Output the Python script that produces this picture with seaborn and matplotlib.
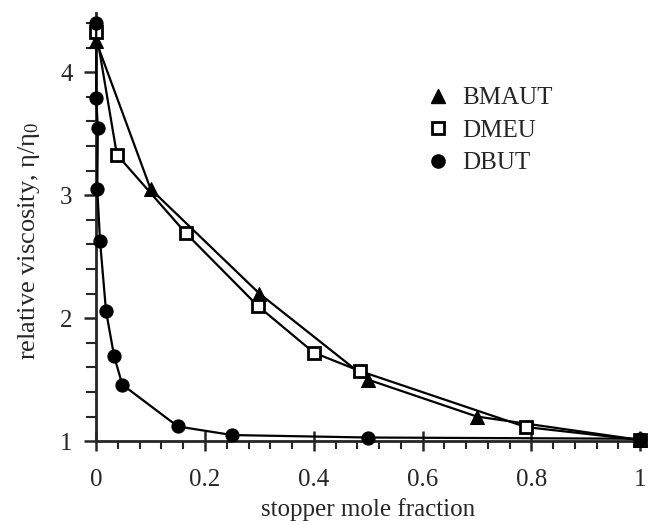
import numpy as np
import pandas as pd
import matplotlib
matplotlib.use('Agg')
import matplotlib.pyplot as plt
from matplotlib.lines import Line2D
from matplotlib.ticker import MultipleLocator
import seaborn as sns

# datos
bmaut_x = [0.0, 0.1, 0.3, 0.5, 0.7, 1.0]
bmaut_y = [4.25, 3.05, 2.2, 1.5, 1.2, 1.01]

dmeu_x = [0.0, 0.038, 0.165, 0.297, 0.4, 0.485, 0.79, 1.0]
dmeu_y = [4.33, 3.33, 2.69, 2.1, 1.72, 1.57, 1.115, 1.01]

dbut_x = [0.0, 0.0, 0.003, 0.002, 0.007, 0.018, 0.033, 0.048, 0.15, 0.25, 0.5, 1.0]
dbut_y = [4.4, 3.79, 3.55, 3.05, 2.63, 2.06, 1.69, 1.46, 1.12, 1.05, 1.03, 1.02]

series = ['BMAUT', 'DMEU', 'DBUT']

sns.set_style('ticks')
plt.rcParams['font.family'] = ['Liberation Serif', 'DejaVu Serif']
plt.rcParams['mathtext.fontset'] = 'stix'

fig = plt.figure(figsize=(6.5, 5.24), dpi=100)
ax = fig.add_axes([0.148, 0.158, 0.837, 0.817])

estilos = {
    'BMAUT': dict(marker='^', markersize=10, markerfacecolor='black', markeredgecolor='black'),
    'DMEU': dict(marker='s', markersize=9, markerfacecolor='white', markeredgecolor='black',
                 markeredgewidth=2),
    'DBUT': dict(marker='o', markersize=9.5, markerfacecolor='black', markeredgecolor='black'),
}
datos = {'BMAUT': (bmaut_x, bmaut_y), 'DMEU': (dmeu_x, dmeu_y), 'DBUT': (dbut_x, dbut_y)}

for nombre in series:
    x, y = datos[nombre]
    df = pd.DataFrame({'x': x, 'y': y})
    sns.lineplot(data=df, x='x', y='y', sort=False, estimator=None, color='black',
                 linewidth=1.6, ax=ax, clip_on=False, zorder=3, **estilos[nombre])

ax.set_xlim(0, 1)
ax.set_ylim(1, 4.48)
ax.xaxis.set_major_locator(MultipleLocator(0.2))
ax.xaxis.set_minor_locator(MultipleLocator(0.04))
ax.yaxis.set_major_locator(MultipleLocator(1))
ax.yaxis.set_minor_locator(MultipleLocator(0.2))
ax.set_xticks([0, 0.2, 0.4, 0.6, 0.8, 1.0])
ax.set_xticklabels(['0', '0.2', '0.4', '0.6', '0.8', '1'])
ax.set_yticks([1, 2, 3, 4])
ax.set_yticklabels(['1', '2', '3', '4'])
ax.tick_params(axis='x', which='major', direction='inout', length=14, width=1.8, labelsize=18, pad=13)
ax.tick_params(axis='x', which='minor', direction='out', length=6, width=1.5)
ax.tick_params(axis='y', which='major', direction='out', length=9, width=1.8, labelsize=18, pad=8)
ax.tick_params(axis='y', which='minor', direction='out', length=7, width=1.5)
for s in ['top', 'right']:
    ax.spines[s].set_visible(False)
for s in ['left', 'bottom']:
    ax.spines[s].set_linewidth(2)

ax.set_xlabel('stopper mole fraction', fontsize=18)
ax.xaxis.set_label_coords(0.5, -0.133)
ax.set_ylabel('relative viscosity, η/η$\\mathregular{_0}$', fontsize=19)
ax.yaxis.set_label_coords(-0.10, 0.467)

handles = [Line2D([], [], linestyle='none', color='black', **estilos[n]) for n in series]
ax.legend(handles, series, loc='upper left', bbox_to_anchor=(0.56, 0.88), frameon=False,
          fontsize=18, handletextpad=0.35, labelspacing=0.4, handlelength=1.2)

fig.savefig('out.png', dpi=100)
